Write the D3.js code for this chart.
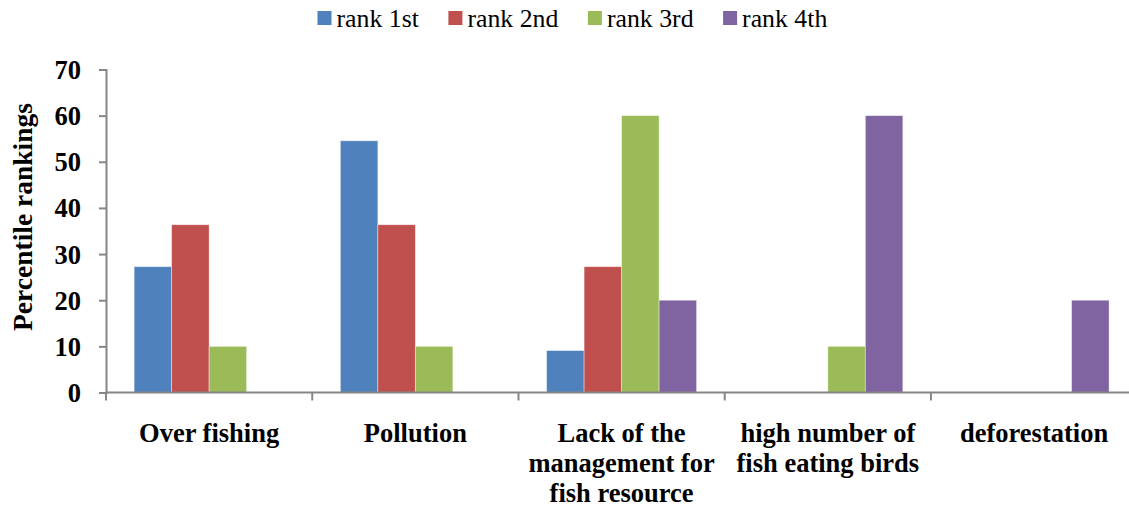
<!DOCTYPE html>
<html>
<head>
<meta charset="utf-8">
<script src="https://cdn.jsdelivr.net/npm/d3@7"></script>
<style>
  html, body { margin: 0; padding: 0; background: #fff; }
  svg { display: block; }
  text { font-family: "Liberation Serif", "Times New Roman", serif; fill: #000; }
</style>
</head>
<body>
<svg id="chart" width="1129" height="508"></svg>
<script>
const categories = ["Over fishing", "Pollution", "Lack of the management for fish resource", "high number of fish eating birds", "deforestation"];
const seriesNames = ["rank 1st", "rank 2nd", "rank 3rd", "rank 4th"];
const rank1 = [27.27, 54.55, 9.09, 0, 0];
const rank2 = [36.36, 36.36, 27.27, 0, 0];
const rank3 = [10, 10, 60, 10, 0];
const rank4 = [0, 0, 20, 60, 20];
const yTicks = [0, 10, 20, 30, 40, 50, 60, 70];
const colors = ["#4F81BD", "#C0504D", "#9BBB59", "#8064A2"];
const yTitle = "Percentile rankings";

const seriesValues = [rank1, rank2, rank3, rank4];
const svg = d3.select("#chart");

const x0 = d3.scaleBand().domain(categories).range([106, 1137.2]).padding(0);
const x1 = d3.scaleBand().domain(seriesNames).range([0, x0.bandwidth()]).paddingInner(0).paddingOuter(0.75);
const y = d3.scaleLinear().domain([0, 70]).range([392.5, 69.5]);

// bars
const groups = svg.append("g").selectAll("g")
  .data(categories).join("g")
  .attr("transform", d => `translate(${x0(d)},0)`);
groups.selectAll("rect")
  .data((d, i) => seriesNames.map((s, j) => ({ s, j, v: seriesValues[j][i] })))
  .join("rect")
  .filter(d => d.v > 0)
  .attr("x", d => x1(d.s))
  .attr("width", x1.bandwidth())
  .attr("y", d => y(d.v))
  .attr("height", d => y(0) - y(d.v))
  .attr("fill", d => colors[d.j])
  .attr("stroke", "rgba(255,255,255,0.5)")
  .attr("stroke-width", 0.8);

// y axis
const yAxis = svg.append("g")
  .attr("transform", "translate(106,0)")
  .call(d3.axisLeft(y).tickValues(yTicks).tickSize(7).tickPadding(18).tickFormat(d3.format("d")));
yAxis.select(".domain").attr("stroke", "#868686").attr("stroke-width", 2);
yAxis.selectAll(".tick line").attr("stroke", "#868686").attr("stroke-width", 2);
yAxis.selectAll(".tick text")
  .attr("font-family", "Liberation Serif, Times New Roman, serif")
  .attr("font-size", 26.5).attr("font-weight", "bold").attr("fill", "#000")
  .attr("dy", "0.34em");

// x axis
const xAxis = svg.append("g").attr("transform", `translate(0,${y(0)})`);
xAxis.append("line")
  .attr("x1", x0.range()[0]).attr("x2", x0.range()[1])
  .attr("stroke", "#868686").attr("stroke-width", 2);
const bounds = categories.map(c => x0(c)).concat([x0.range()[1]]);
xAxis.selectAll("line.tk").data(bounds).join("line")
  .attr("class", "tk")
  .attr("x1", d => d).attr("x2", d => d)
  .attr("y1", 0).attr("y2", 8)
  .attr("stroke", "#868686").attr("stroke-width", 2);

// category labels with wrapping
const labels = svg.append("g").selectAll("text")
  .data(categories).join("text")
  .attr("text-anchor", "middle")
  .attr("font-size", 26.5).attr("font-weight", "bold")
  .attr("x", d => x0(d) + x0.bandwidth() / 2)
  .attr("y", 441.7);
labels.each(function (d) {
  const t = d3.select(this);
  const words = d.split(" ");
  let line = [];
  let lines = [];
  let tspan = t.append("tspan");
  words.forEach(w => {
    line.push(w);
    tspan.text(line.join(" "));
    if (tspan.node().getComputedTextLength() > 200 && line.length > 1) {
      line.pop();
      lines.push(line.join(" "));
      line = [w];
    }
  });
  lines.push(line.join(" "));
  t.text(null);
  const cx = x0(d) + x0.bandwidth() / 2;
  lines.forEach((l, i) => {
    t.append("tspan").attr("x", cx).attr("y", 441.7 + i * 30).text(l);
  });
});

// y title
svg.append("text")
  .attr("transform", "translate(32,217) rotate(-90)")
  .attr("text-anchor", "middle")
  .attr("font-size", 27.5).attr("font-weight", "bold")
  .text(yTitle);

// legend
const legend = svg.append("g");
let lx = 317.5;
seriesNames.forEach((s, i) => {
  legend.append("rect")
    .attr("x", lx).attr("y", 11)
    .attr("width", 14).attr("height", 14)
    .attr("fill", colors[i]);
  const tx = legend.append("text")
    .attr("x", lx + 19).attr("y", 26.5)
    .attr("font-size", 25.8).text(s);
  lx = lx + 19 + tx.node().getComputedTextLength() + 29.5;
});
</script>
</body>
</html>
